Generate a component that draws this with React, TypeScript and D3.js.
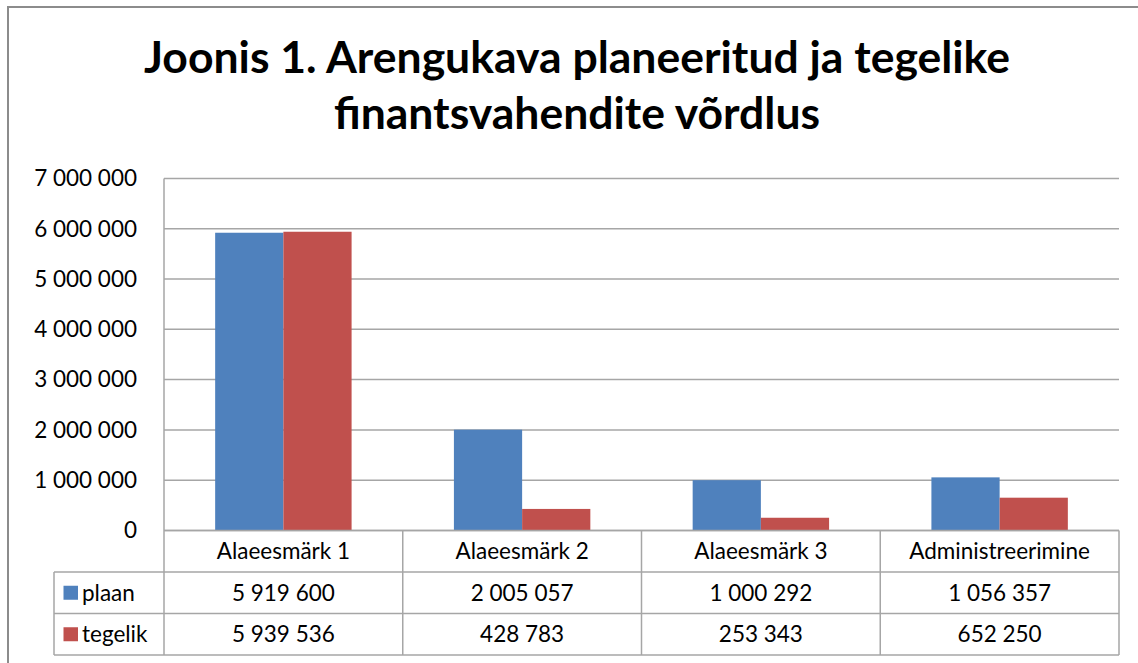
import React from "react";
import * as d3 from "d3";

const categories = ["Alaeesmärk 1", "Alaeesmärk 2", "Alaeesmärk 3", "Administreerimine"];
const seriesNames = ["plaan", "tegelik"];
const plaan = [5919600, 2005057, 1000292, 1056357];
const tegelik = [5939536, 428783, 253343, 652250];
const yTicks = [0, 1000000, 2000000, 3000000, 4000000, 5000000, 6000000, 7000000];
const titleLines = ["Joonis 1. Arengukava planeeritud ja tegelike", "finantsvahendite võrdlus"];
const colors = ["#4F81BD", "#C0504D"];

const W = 1138;
const H = 663;
const plotLeft = 164;
const plotRight = 1119;
const plotTop = 178.4;
const plotBottom = 530.5;
const tableLeft = 54;
const rowH = 41.5;

const locale = d3.formatLocale({ decimal: ",", thousands: " ", grouping: [3], currency: ["", " €"] });
const fmt = locale.format(",d");

export default function App() {
  const series = [plaan, tegelik];
  const x = d3.scaleBand<string>().domain(categories).range([plotLeft, plotRight]).padding(0);
  const xi = d3
    .scaleBand<string>()
    .domain(seriesNames)
    .range([0, x.bandwidth()])
    .paddingInner(0)
    .paddingOuter(0.75);
  const y = d3.scaleLinear().domain([0, 7000000]).range([plotBottom, plotTop]);

  const font = "Lato, 'Open Sans', sans-serif";
  const grid = "#a6a6a6";
  const fs = 22.5;
  const rowY = [plotBottom, plotBottom + rowH, plotBottom + 2 * rowH, plotBottom + 3 * rowH];

  return (
    <svg
      width={W}
      height={H}
      style={{ position: "absolute", left: 0, top: 0, background: "#fff" }}
      fontFamily={font}
    >
      <rect x={0} y={0} width={W} height={H} fill="#fff" />
      {/* frame */}
      <rect x={8} y={7} width={W + 20} height={H + 20} fill="none" stroke="#8c8c8c" strokeWidth={2} />

      {/* title */}
      {titleLines.map((t, i) => (
        <text
          key={i}
          x={577}
          y={73 + i * 56}
          textAnchor="middle"
          fontSize={44.5}
          fontWeight="bold"
          fill="#000"
        >
          {t}
        </text>
      ))}

      {/* gridlines */}
      {yTicks.map((t) => (
        <line key={t} x1={plotLeft} x2={plotRight} y1={y(t)} y2={y(t)} stroke={grid} strokeWidth={1.5} />
      ))}
      {yTicks.map((t) => (
        <text key={"l" + t} x={137} y={y(t)} dy="0.35em" textAnchor="end" fontSize={fs} fill="#000">
          {fmt(t)}
        </text>
      ))}

      {/* bars */}
      {categories.map((c, ci) =>
        seriesNames.map((s, si) => {
          const v = series[si][ci];
          const bx = (x(c) as number) + (xi(s) as number);
          return (
            <rect
              key={c + s}
              x={bx}
              y={y(v)}
              width={xi.bandwidth()}
              height={plotBottom - y(v)}
              fill={colors[si]}
            />
          );
        })
      )}

      {/* table lines */}
      <line x1={plotLeft} x2={plotLeft} y1={plotTop} y2={rowY[3]} stroke={grid} strokeWidth={1.5} />
      <line x1={plotLeft} x2={plotRight} y1={rowY[0]} y2={rowY[0]} stroke={grid} strokeWidth={1.5} />
      {[1, 2, 3].map((r) => (
        <line key={r} x1={tableLeft} x2={plotRight} y1={rowY[r]} y2={rowY[r]} stroke={grid} strokeWidth={1.5} />
      ))}
      <line x1={tableLeft} x2={tableLeft} y1={rowY[1]} y2={rowY[3]} stroke={grid} strokeWidth={1.5} />
      {categories.map((c) => (
        <line
          key={"v" + c}
          x1={(x(c) as number) + x.bandwidth()}
          x2={(x(c) as number) + x.bandwidth()}
          y1={rowY[0]}
          y2={rowY[3]}
          stroke={grid}
          strokeWidth={1.5}
        />
      ))}

      {/* category labels */}
      {categories.map((c) => (
        <text
          key={"c" + c}
          x={(x(c) as number) + x.bandwidth() / 2}
          y={(rowY[0] + rowY[1]) / 2}
          dy="0.35em"
          textAnchor="middle"
          fontSize={fs}
          fill="#000"
        >
          {c}
        </text>
      ))}

      {/* series rows */}
      {seriesNames.map((s, si) => {
        const cy = (rowY[si + 1] + rowY[si + 2]) / 2;
        return (
          <g key={"r" + s}>
            <rect x={63.5} y={cy - 7} width={14.5} height={14} fill={colors[si]} />
            <text x={82} y={cy} dy="0.35em" fontSize={fs} fill="#000">
              {s}
            </text>
            {categories.map((c, ci) => (
              <text
                key={c}
                x={(x(c) as number) + x.bandwidth() / 2}
                y={cy}
                dy="0.35em"
                textAnchor="middle"
                fontSize={fs}
                fill="#000"
              >
                {fmt(series[si][ci])}
              </text>
            ))}
          </g>
        );
      })}
    </svg>
  );
}
